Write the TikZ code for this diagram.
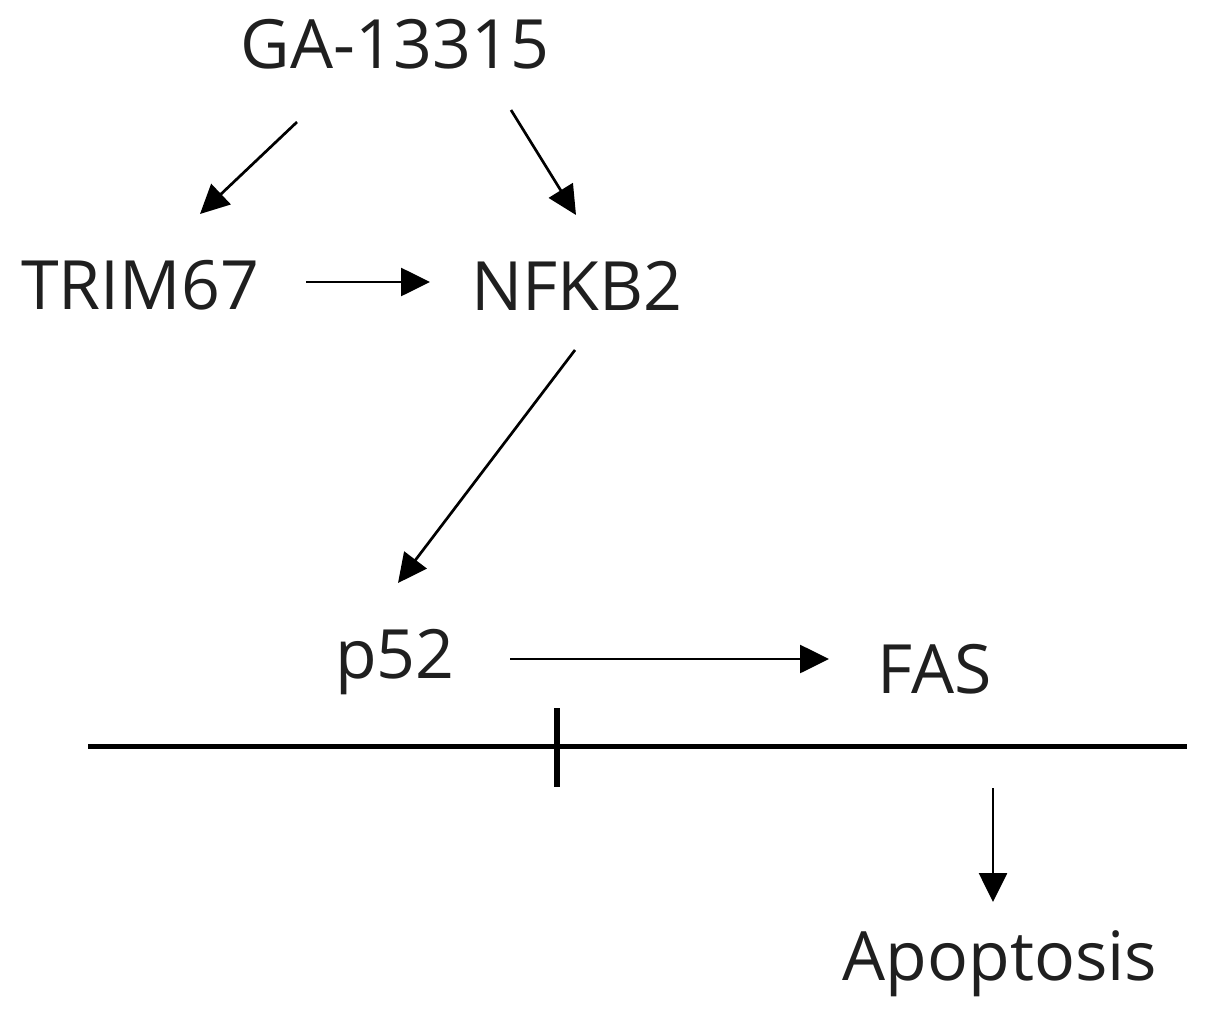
\documentclass[tikz,border=0pt]{standalone}
\usepackage{fontspec}
\setmainfont{Open Sans}
\usetikzlibrary{arrows.meta,calc}
\begin{document}
\begin{tikzpicture}[x=1pt,y=-1pt,
  lbl/.style={anchor=base,inner sep=0pt,font=\fontsize{68}{80}\selectfont,text=black!88},
  arr/.style={line width=2.7pt,-{Triangle[length=29pt,width=28pt]}},
  membrane/.style={line width=5pt},
  tick/.style={line width=6pt}]
\useasboundingbox (0,0) rectangle (1205,1009);
\node[lbl] (ga)   at (395,68)  {GA-13315};
\node[lbl] (trim) at (140,309) {TRIM67};
\node[lbl] (nfkb) at (577,310) {NFKB2};
\node[lbl] (p52)  at (395,678) {p52};
\node[lbl] (fas)  at (935,693) {FAS};
\node[lbl] (apo)  at (1000,980) {Apoptosis};
\draw[arr] ($(ga.base)+(-98,54)$) -- ($(trim.base)+(60,-95)$);
\draw[arr] ($(ga.base)+(116,42)$) -- ($(nfkb.base)+(-1,-95)$);
\draw[arr] ($(trim.base)+(166,-27)$) -- ($(nfkb.base)+(-147,-28)$);
\draw[arr] ($(nfkb.base)+(-2,40)$) -- ($(p52.base)+(3,-95)$);
\draw[arr] ($(p52.base)+(115,-19)$) -- ($(fas.base)+(-106,-34)$);
\draw[arr] ($(fas.base)+(58,95)$) -- ($(apo.base)+(-7,-78)$);
\draw[membrane] (88,746) -- (1187,746);
\draw[tick] (557,708) -- (557,787);
\end{tikzpicture}
\end{document}
